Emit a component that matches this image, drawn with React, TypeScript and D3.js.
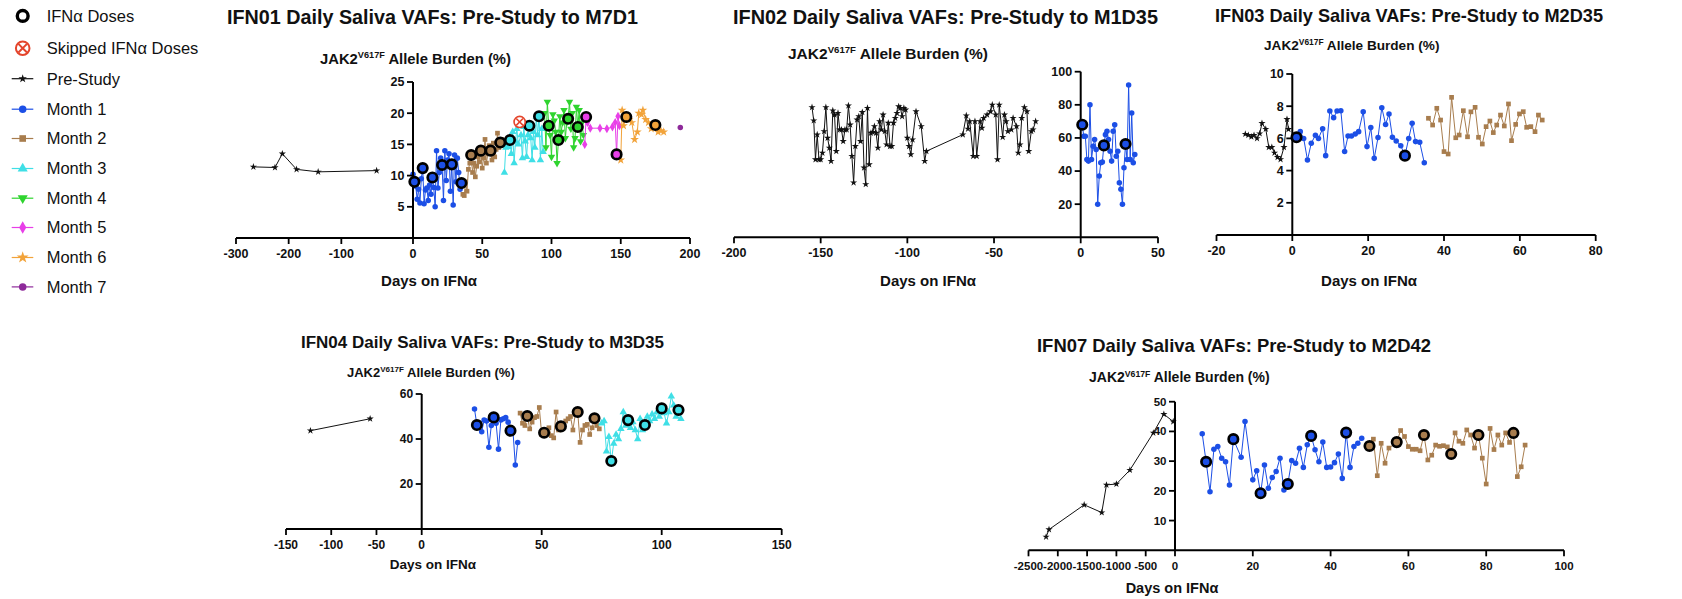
import React from 'react';
import * as d3 from 'd3';

type Pt = [number, number];
type Dose = [number, number, number];

const FONT = '"Liberation Sans", Arial, Helvetica, sans-serif';

const monthColors = ['#1c4fe6', '#a87d4e', '#3fdfe6', '#2fd42f', '#e83fe8', '#f2a33a', '#8e2a9a'];
const preColor = '#111111';
const skipColor = '#e4452c';

const legendLabels = ['IFNα Doses', 'Skipped IFNα Doses', 'Pre-Study', 'Month 1', 'Month 2', 'Month 3', 'Month 4', 'Month 5', 'Month 6', 'Month 7'];

// ---------- IFN01 ----------
const ifn01Pre: Pt[] = [[-267, 11.4], [-226, 11.3], [-212, 13.5], [-185, 11.0], [-144, 10.6], [-33, 10.8]];
const ifn01M1: Pt[] = [[0, 10.2], [1, 9.0], [2, 8.3], [3, 6.2], [4, 7.8], [5, 5.6], [6, 9.5], [7, 11.2], [8, 5.5], [9, 7.7], [10, 8.0], [11, 6.0], [12, 8.5], [13, 7.0], [14, 9.7], [15, 8.1], [16, 5.0], [17, 14.0], [18, 8.0], [19, 10.5], [20, 12.8], [21, 11.7], [22, 6.0], [23, 14.0], [24, 9.2], [25, 12.5], [26, 13.5], [27, 7.5], [28, 11.8], [29, 5.3], [30, 13.3], [31, 9.0], [32, 12.8], [33, 10.5], [34, 7.8], [35, 8.8]];
const ifn01M2: Pt[] = [[36, 7.0], [37, 6.8], [38, 9.0], [39, 7.5], [40, 11.0], [41, 12.0], [42, 13.3], [43, 10.5], [44, 12.0], [45, 9.8], [46, 11.5], [47, 13.0], [48, 12.2], [49, 14.0], [50, 11.2], [51, 12.8], [52, 15.8], [53, 12.0], [54, 13.5], [55, 14.8], [56, 14.0], [57, 12.5], [58, 15.2], [59, 13.0], [60, 14.2], [61, 16.8], [62, 14.5], [63, 15.3], [64, 15.8], [65, 14.8]];
const ifn01M3: Pt[] = [[66, 10.5], [67, 14.5], [68, 15.0], [69, 14.6], [70, 15.7], [71, 13.5], [72, 17.0], [73, 12.0], [74, 15.5], [75, 17.5], [76, 15.0], [78, 16.5], [79, 12.8], [80, 17.8], [81, 15.5], [82, 13.0], [83, 16.5], [84, 18.0], [85, 16.0], [86, 12.5], [87, 17.0], [88, 14.5], [89, 19.5], [90, 16.5], [91, 19.5], [92, 12.5], [93, 17.5], [94, 13.8]];
const ifn01M4: Pt[] = [[95, 20.0], [96, 14.5], [97, 21.8], [98, 18.0], [99, 16.5], [100, 13.0], [101, 19.8], [102, 18.8], [103, 17.0], [104, 12.0], [105, 15.7], [106, 19.5], [107, 17.0], [108, 18.5], [109, 20.5], [110, 16.0], [111, 18.5], [112, 19.1], [113, 21.8], [114, 17.5], [115, 20.0], [116, 14.5], [117, 16.0], [118, 21.0], [119, 17.8], [120, 20.5], [121, 15.5], [122, 18.5], [123, 16.5]];
const ifn01M5: Pt[] = [[124, 15.0], [125, 19.4], [126, 18.5], [128, 17.6], [135, 17.6], [140, 17.5], [144, 17.8], [146, 18.5], [147, 13.4], [148, 19.5], [149, 18.0]];
const ifn01M6: Pt[] = [[150, 12.5], [151, 20.5], [152, 18.0], [154, 19.4], [156, 19.0], [158, 18.5], [160, 15.8], [162, 17.0], [163, 20.0], [165, 19.8], [166, 20.5], [168, 19.0], [170, 18.5], [172, 17.5], [175, 18.1], [177, 17.0], [179, 17.2], [181, 17.0]];
const ifn01M7: Pt[] = [[193, 17.7]];
const ifn01Doses: Dose[] = [[1, 9.0, 0], [7, 11.2, 0], [14, 9.7, 0], [21, 11.7, 0], [28, 11.8, 0], [35, 8.8, 0], [42, 13.3, 1], [49, 14.0, 1], [56, 14.0, 1], [63, 15.3, 1], [70, 15.7, 2], [84, 18.0, 2], [91, 19.5, 2], [98, 18.0, 3], [105, 15.7, 3], [112, 19.1, 3], [119, 17.8, 3], [125, 19.4, 4], [147, 13.4, 4], [154, 19.4, 5], [175, 18.1, 5]];
const ifn01Skipped: Pt[] = [[77, 18.6]];

// ---------- IFN02 ----------
const ifn02Pre: Pt[] = [
  [-155, 78.5], [-154, 70.5], [-153, 47], [-152, 62], [-151, 47], [-150, 47], [-149, 51], [-148, 64], [-147, 78.5], [-146, 60],
  [-145, 54], [-144, 46], [-143, 76.5], [-142, 74], [-141, 52], [-140, 75], [-139, 65], [-138, 65], [-137, 58], [-136, 65],
  [-135, 65], [-134, 79.5], [-133, 68], [-132, 49], [-131, 33], [-130, 55], [-129, 71], [-128, 73], [-127, 58], [-126, 75.5],
  [-125, 42], [-124, 32], [-123, 78], [-122, 44], [-121, 63], [-120, 63.5], [-119, 67], [-118, 63], [-117, 54], [-116, 70],
  [-115, 65], [-114, 74], [-113, 64], [-112, 56], [-111, 69], [-110, 55], [-109, 55], [-108, 69], [-107, 72], [-106, 75],
  [-105, 79], [-104, 78], [-103, 73], [-102, 78], [-101, 77], [-100, 60], [-99, 55], [-98, 50], [-97, 59], [-95, 76],
  [-92, 67], [-90, 46], [-89, 52],
  [-68, 62], [-66, 73.5], [-65, 65.5], [-64, 70], [-62, 49], [-61, 70], [-60, 49], [-58, 70], [-57, 66], [-56, 72],
  [-54, 74], [-52, 76], [-51, 80], [-49, 74], [-48, 47], [-47, 80], [-45, 60.5], [-44, 74], [-43, 70], [-42, 64],
  [-40, 65], [-39, 72], [-37, 67], [-36, 51], [-35, 56], [-34, 72], [-32.5, 78.5], [-31, 76], [-30, 52], [-28.5, 64],
  [-27.5, 65], [-26, 70],
];
const ifn02M1: Pt[] = [[1, 68], [2, 61], [3, 61], [4, 47], [5, 46], [6, 80], [7, 47], [8, 55], [9, 59], [10, 53], [11, 20], [12, 37], [13, 45], [14, 45.5], [15, 55.5], [16, 62], [17, 64], [18, 59], [19, 52], [20, 46], [21, 64], [22, 68], [23, 49], [24, 52], [25, 33], [26, 29], [27, 20], [28, 42], [29, 56.3], [30, 47], [31, 92], [32, 47], [33, 75], [34, 45], [35, 50]];
const ifn02Doses: Dose[] = [[1, 68, 0], [15, 55.5, 0], [29, 56.3, 0]];

// ---------- IFN03 ----------
const ifn03Pre: Pt[] = [[-12.4, 6.27], [-11.6, 6.2], [-10.8, 6.1], [-10.1, 6.2], [-9.3, 6.0], [-8.6, 6.3], [-8, 6.94], [-7, 6.58], [-6.2, 5.45], [-5.4, 5.45], [-4.7, 5.1], [-3.9, 4.83], [-3.1, 4.7], [-2.2, 5.45], [-1.4, 7.19], [-1, 6.57]];
const ifn03M1: Pt[] = [[1.1, 6.07], [2.1, 6.42], [3, 6.0], [4, 4.66], [5, 5.7], [6.1, 6.2], [6.9, 6.0], [8, 6.6], [8.8, 4.93], [9.9, 7.7], [10.9, 7.29], [11.8, 7.7], [12.8, 7.72], [13.8, 5.18], [14.7, 6.15], [15.6, 6.15], [16.6, 6.27], [17.5, 6.42], [18.7, 7.66], [19.7, 5.49], [20.7, 6.67], [21.6, 4.76], [22.6, 6.05], [23.6, 7.91], [24.6, 6.87], [25.5, 7.52], [26.4, 6.07], [27.4, 5.84], [28.6, 5.55], [29.7, 4.93], [30.7, 6.0], [31.6, 6.94], [32.5, 5.8], [33.6, 5.76], [34.8, 4.49]];
const ifn03M2: Pt[] = [[35.9, 7.25], [37, 6.83], [38.1, 7.87], [39.1, 7.14], [40, 5.18], [41.1, 5.03], [42, 8.55], [43.1, 6.04], [44, 6.21], [45.1, 7.72], [46.2, 6.1], [47.1, 7.65], [48.2, 7.93], [49.1, 6.07], [50.1, 5.65], [51.1, 6.73], [52.1, 7.08], [53, 6.36], [53.9, 6.83], [54.9, 7.45], [55.9, 6.77], [57, 8.14], [57.8, 5.86], [58.9, 6.87], [59.9, 7.52], [60.9, 7.66], [61.8, 6.69], [62.9, 6.73], [64, 6.42], [64.9, 7.45], [65.9, 7.14]];
const ifn03Doses: Dose[] = [[1.1, 6.07, 0], [29.7, 4.93, 0]];

// ---------- IFN04 ----------
const ifn04Pre: Pt[] = [[-123, 43.7], [-57, 49]];
const ifn04M1: Pt[] = [[22, 53.3], [23, 46.2], [24, 47], [25, 43.2], [26, 48.4], [27, 48], [28, 36.3], [29, 46], [30, 49.6], [31, 47], [32, 35.5], [33, 48.5], [34, 49], [35, 49.5], [36, 47.5], [37, 43.7], [38, 44], [39, 28.4], [40, 38.4]];
const ifn04M2: Pt[] = [[41, 51.5], [42, 47], [43, 46], [44, 50.2], [45, 44.5], [46, 47.5], [47, 49.5], [48, 50], [49, 54], [50, 42], [51, 42.8], [52, 44], [53, 45], [54, 41.5], [55, 40.5], [56, 52], [57, 44], [58, 45.6], [59, 47], [60, 48], [61, 49], [62, 50], [63, 44], [64, 51], [65, 52], [66, 38.5], [67, 44], [68, 46], [69, 46.5], [70, 42], [71, 45], [72, 49.2], [73, 46], [74, 44.5]];
const ifn04M3: Pt[] = [[75, 47], [76, 48], [77, 34.5], [78, 41], [79, 30.2], [80, 38], [81, 42], [82, 40], [83, 44.5], [84, 52], [85, 46], [86, 48.4], [87, 45], [88, 47.5], [89, 44], [90, 40], [91, 49], [92, 44], [93, 46.2], [94, 50], [95, 48], [96, 51], [97, 49], [98, 52], [99, 50], [100, 53.6], [101, 51.5], [102, 47], [103, 52], [104, 59], [105, 55], [106, 50], [107, 52.9], [108, 49]];
const ifn04Doses: Dose[] = [[23, 46.2, 0], [30, 49.6, 0], [37, 43.7, 0], [44, 50.2, 1], [51, 42.8, 1], [58, 45.6, 1], [65, 52, 1], [72, 49.2, 1], [79, 30.2, 2], [86, 48.4, 2], [93, 46.2, 2], [100, 53.6, 2], [107, 52.9, 2]];

// ---------- IFN07 ----------
const ifn07Pre: Pt[] = [[-2200, 4.5], [-2150, 7], [-1550, 15.3], [-1250, 12.7], [-1170, 22], [-1000, 22.3], [-770, 27], [-370, 39.5], [-190, 45.8], [-30, 43.3]];
const ifn07M1: Pt[] = [[7, 39.2], [8, 29.8], [9, 19.7], [10, 34], [11, 34.9], [12, 31], [13, 29.8], [14, 22], [15, 37.4], [17, 31.3], [18, 43.3], [20, 23.7], [21, 26.8], [22, 19.2], [23, 28.7], [24, 20.9], [25, 24.5], [26, 26.5], [27, 31], [28, 20.3], [29, 22.3], [30, 30.2], [31, 29.3], [32, 34.3], [33, 27.9], [34, 35.5], [35, 38.5], [36, 33.8], [37, 29.8], [38, 36.4], [39, 27.9], [40, 28], [41, 29.5], [42, 32.4], [43, 24.2], [44, 39.6], [45, 27.9], [46, 34.9], [47, 36], [48, 37.7]];
const ifn07M2: Pt[] = [[50, 35.1], [51, 37.4], [52, 25.1], [53, 36], [54, 29.3], [55, 34.4], [57, 36.4], [58, 40.3], [59, 38.3], [60, 34.9], [61, 34], [62, 34], [63, 33.5], [64, 38.8], [65, 30.4], [66, 32], [67, 35.4], [68, 35], [69, 35.2], [70, 34.8], [71, 32.4], [72, 39.5], [73, 36.7], [74, 36], [75, 40.5], [76, 38.8], [77, 34.4], [78, 38.8], [79, 31], [80, 22.3], [81, 41], [82, 33.9], [83, 38.8], [84, 35.4], [85, 39.5], [86, 36.3], [87, 39.5], [88, 24.8], [89, 28.1], [90, 35.4]];
const ifn07Doses: Dose[] = [[8, 29.8, 0], [15, 37.4, 0], [22, 19.2, 0], [29, 22.3, 0], [35, 38.5, 0], [44, 39.6, 0], [50, 35.1, 1], [57, 36.4, 1], [64, 38.8, 1], [71, 32.4, 1], [78, 38.8, 1], [87, 39.5, 1]];

type PanelDef = {
  title: string; titleX: number; titleY: number; titleW: number; titleSize: number;
  labX: number; labY: number; labSize: number;
  xlabCx: number; xlabY: number; xlabSize: number;
  preDomain: [number, number]; preRange: [number, number];
  mainDomain: [number, number]; mainRange: [number, number];
  preTicks: number[]; mainTicks: number[];
  yMax: number; yRange: [number, number]; yTicks: number[];
  pre: Pt[]; months: Pt[][]; doses: Dose[]; skipped?: Pt[];
  tickSize?: number;
};

const panels: PanelDef[] = [
  {
    title: 'IFN01 Daily Saliva VAFs: Pre-Study to M7D1', titleX: 227, titleY: 24, titleW: 411, titleSize: 19.7,
    labX: 320, labY: 64, labSize: 14.8, xlabCx: 429, xlabY: 286, xlabSize: 15,
    preDomain: [-300, 0], preRange: [236, 394], mainDomain: [0, 200], mainRange: [413, 690],
    preTicks: [-300, -200, -100], mainTicks: [0, 50, 100, 150, 200],
    yMax: 25, yRange: [238, 82], yTicks: [5, 10, 15, 20, 25],
    pre: ifn01Pre, months: [ifn01M1, ifn01M2, ifn01M3, ifn01M4, ifn01M5, ifn01M6, ifn01M7], doses: ifn01Doses, skipped: ifn01Skipped,
  },
  {
    title: 'IFN02 Daily Saliva VAFs: Pre-Study to M1D35', titleX: 733, titleY: 24, titleW: 425, titleSize: 19.8,
    labX: 788, labY: 59, labSize: 15.5, xlabCx: 928, xlabY: 286, xlabSize: 15,
    preDomain: [-200, 0], preRange: [734, 1080.7], mainDomain: [0, 50], mainRange: [1080.7, 1158],
    preTicks: [-200, -150, -100, -50], mainTicks: [0, 50],
    yMax: 100, yRange: [237.3, 71.7], yTicks: [20, 40, 60, 80, 100],
    pre: ifn02Pre, months: [ifn02M1], doses: ifn02Doses,
  },
  {
    title: 'IFN03 Daily Saliva VAFs: Pre-Study to M2D35', titleX: 1215, titleY: 22, titleW: 388, titleSize: 18.2,
    labX: 1264, labY: 50, labSize: 13.6, xlabCx: 1369, xlabY: 286, xlabSize: 15,
    preDomain: [-20, 0], preRange: [1216.5, 1292.3], mainDomain: [0, 80], mainRange: [1292.3, 1595.7],
    preTicks: [-20], mainTicks: [0, 20, 40, 60, 80],
    yMax: 10, yRange: [235, 74], yTicks: [2, 4, 6, 8, 10],
    pre: ifn03Pre, months: [ifn03M1, ifn03M2], doses: ifn03Doses,
  },
  {
    title: 'IFN04 Daily Saliva VAFs: Pre-Study to M3D35', titleX: 301, titleY: 348, titleW: 363, titleSize: 17.2,
    labX: 347, labY: 377, labSize: 13, xlabCx: 433, xlabY: 569, xlabSize: 13.5,
    preDomain: [-150, 0], preRange: [286, 421.7], mainDomain: [0, 150], mainRange: [421.7, 781.7],
    preTicks: [-150, -100, -50], mainTicks: [0, 50, 100, 150],
    yMax: 60, yRange: [529, 394], yTicks: [20, 40, 60],
    pre: ifn04Pre, months: [ifn04M1, ifn04M2, ifn04M3], doses: ifn04Doses, tickSize: 12,
  },
  {
    title: 'IFN07 Daily Saliva VAFs: Pre-Study to M2D42', titleX: 1037, titleY: 352, titleW: 394, titleSize: 18.4,
    labX: 1089, labY: 382, labSize: 14, xlabCx: 1172, xlabY: 593, xlabSize: 14.5,
    preDomain: [-2500, 0], preRange: [1028.5, 1175], mainDomain: [0, 100], mainRange: [1175, 1564],
    preTicks: [-2500, -2000, -1500, -1000, -500], mainTicks: [0, 20, 40, 60, 80, 100],
    yMax: 50, yRange: [550.3, 401.7], yTicks: [10, 20, 30, 40, 50],
    pre: ifn07Pre, months: [ifn07M1, ifn07M2], doses: ifn07Doses, tickSize: 11.5,
  },
];

const symbolTypes = [d3.symbolCircle, d3.symbolSquare, d3.symbolTriangle, d3.symbolTriangle, d3.symbolDiamond, d3.symbolStar, d3.symbolCircle];

const markerPath = (m: number, size: number) => {
  const t = m < 0 ? d3.symbolStar : symbolTypes[m];
  return d3.symbol().type(t).size(size)() as string;
};

const Marker = ({ m, x, y, size }: { m: number; x: number; y: number; size: number }) => (
  <path
    d={markerPath(m, size)}
    transform={`translate(${x},${y})${m === 3 ? ' rotate(180)' : ''}`}
    fill={m < 0 ? preColor : monthColors[m]}
  />
);

const YLabel = ({ x, y, size }: { x: number; y: number; size: number }) => (
  <text x={x} y={y} fontSize={size} fontWeight="bold" fill="#111">
    JAK2
    <tspan fontSize={size * 0.62} dy={-size * 0.38}>V617F</tspan>
    <tspan dy={size * 0.38}> Allele Burden (%)</tspan>
  </text>
);

const Panel = ({ p }: { p: PanelDef }) => {
  const pre = d3.scaleLinear().domain(p.preDomain).range(p.preRange);
  const main = d3.scaleLinear().domain(p.mainDomain).range(p.mainRange);
  const X = (d: number) => (d < 0 ? pre(d) : main(d));
  const y = d3.scaleLinear().domain([0, p.yMax]).range(p.yRange);
  const line = d3.line<Pt>().x(d => X(d[0])).y(d => y(d[1]));
  const axisY = y(0);
  const axisX = main(0);
  const tSize = p.tickSize ?? 12.5;
  const xTicks = [...p.preTicks.map(t => ({ t, px: pre(t) })), ...p.mainTicks.map(t => ({ t, px: main(t) }))];

  return (
    <g>
      <text x={p.titleX} y={p.titleY} fontSize={p.titleSize} fontWeight="bold" fill="#111"
        textLength={p.titleW} lengthAdjust="spacingAndGlyphs">{p.title}</text>
      <YLabel x={p.labX} y={p.labY} size={p.labSize} />
      <text x={p.xlabCx} y={p.xlabY} fontSize={p.xlabSize} fontWeight="bold" textAnchor="middle" fill="#111">Days on IFNα</text>

      {/* series */}
      <path d={line(p.pre) ?? ''} fill="none" stroke={preColor} strokeWidth={1} />
      {p.pre.map((d, i) => <Marker key={'p' + i} m={-1} x={X(d[0])} y={y(d[1])} size={16} />)}
      {p.months.map((s, mi) => (
        <g key={'m' + mi}>
          <path d={line(s) ?? ''} fill="none" stroke={monthColors[mi]} strokeWidth={1} />
          {s.map((d, i) => <Marker key={i} m={mi} x={X(d[0])} y={y(d[1])} size={mi === 1 ? 22 : 24} />)}
        </g>
      ))}

      {/* axes */}
      <line x1={xTicks[0].px} x2={main(p.mainDomain[1])} y1={axisY} y2={axisY} stroke="#000" strokeWidth={2} />
      <line x1={axisX} x2={axisX} y1={axisY} y2={y(p.yMax)} stroke="#000" strokeWidth={2} />
      {xTicks.map(({ t, px }) => (
        <g key={'xt' + t}>
          <line x1={px} x2={px} y1={axisY} y2={axisY + 6} stroke="#000" strokeWidth={1.8} />
          <text x={px} y={axisY + 19.5} fontSize={tSize} fontWeight="bold" textAnchor="middle" fill="#111">{t}</text>
        </g>
      ))}
      {p.yTicks.map(t => (
        <g key={'yt' + t}>
          <line x1={axisX - 6} x2={axisX} y1={y(t)} y2={y(t)} stroke="#000" strokeWidth={1.8} />
          <text x={axisX - 8.5} y={y(t)} dy="0.35em" fontSize={tSize} fontWeight="bold" textAnchor="end" fill="#111">{t}</text>
        </g>
      ))}

      {/* doses */}
      {p.doses.map((d, i) => (
        <circle key={'d' + i} cx={X(d[0])} cy={y(d[1])} r={4.7} fill={monthColors[d[2]]} stroke="#000" strokeWidth={2.7} />
      ))}
      {(p.skipped ?? []).map((d, i) => {
        const cx = X(d[0]);
        const cy = y(d[1]);
        const k = 3.4;
        return (
          <g key={'s' + i} stroke={skipColor} strokeWidth={1.6}>
            <circle cx={cx} cy={cy} r={5.6} fill="#fff" />
            <line x1={cx - k} x2={cx + k} y1={cy - k} y2={cy + k} />
            <line x1={cx - k} x2={cx + k} y1={cy + k} y2={cy - k} />
          </g>
        );
      })}
    </g>
  );
};

const legendBaselines = [21.7, 54, 84.5, 115, 144.3, 174.3, 204, 233.3, 263.3, 292.7];

const Legend = () => {
  const mx = 22.7;
  return (
    <g>
      {legendLabels.map((label, i) => {
        const by = legendBaselines[i];
        const cy = by - 5.8;
        let mark: React.ReactNode = null;
        if (i === 0) {
          mark = <circle cx={mx} cy={cy} r={5.4} fill="#fff" stroke="#000" strokeWidth={3.4} />;
        } else if (i === 1) {
          const k = 4.3;
          mark = (
            <g stroke={skipColor} strokeWidth={2}>
              <circle cx={mx} cy={cy} r={6.8} fill="#fff" />
              <line x1={mx - k} x2={mx + k} y1={cy - k} y2={cy + k} />
              <line x1={mx - k} x2={mx + k} y1={cy + k} y2={cy - k} />
            </g>
          );
        } else {
          const m = i - 3;
          const color = m < 0 ? preColor : monthColors[m];
          mark = (
            <g>
              <line x1={11.7} x2={33.3} y1={cy} y2={cy} stroke={color} strokeWidth={1.2} />
              <Marker m={m} x={mx} y={cy} size={m < 0 ? 22 : 44} />
            </g>
          );
        }
        return (
          <g key={label}>
            {mark}
            <text x={46.7} y={by} fontSize={16.5} fill="#111">{label}</text>
          </g>
        );
      })}
    </g>
  );
};

export default function App() {
  return (
    <svg width={1682} height={599} style={{ position: 'absolute', left: 0, top: 0, display: 'block' }} fontFamily={FONT}>
      <rect x={0} y={0} width={1682} height={599} fill="#fff" />
      <Legend />
      {panels.map(p => <Panel key={p.title} p={p} />)}
    </svg>
  );
}
